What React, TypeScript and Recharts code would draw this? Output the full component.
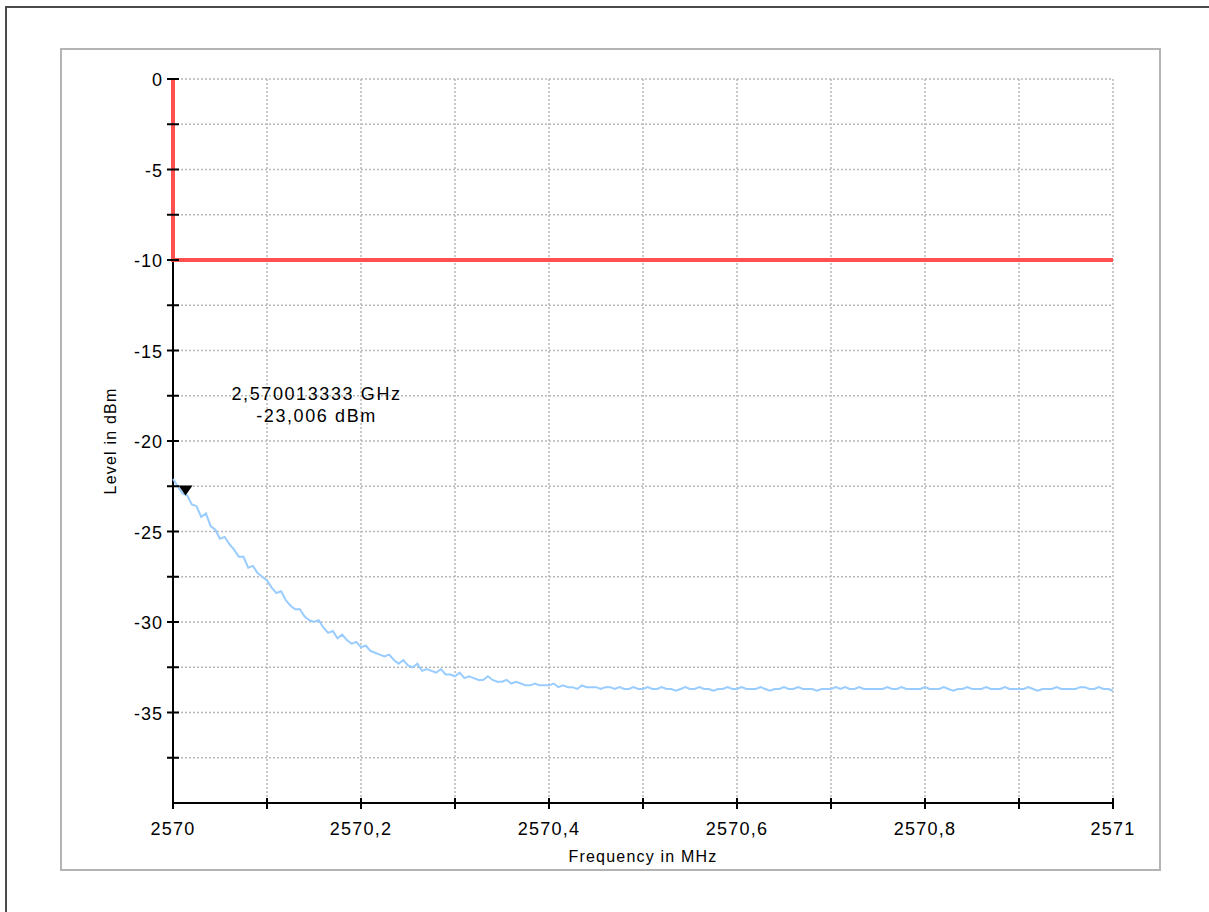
import React from 'react';
import { ComposedChart, Line, Scatter, XAxis, YAxis, CartesianGrid, Label } from 'recharts';

const FONT = '"Liberation Sans", Arial, Helvetica, sans-serif';

// sweep: 2570 .. 2571 MHz, 201 points
const sweepStart = 2570;
const sweepStep = 0.005;
const traceLevels = [
  -22.1, -22.5, -22.9, -23.0, -23.5, -23.6, -24.2, -24.0, -24.7, -24.9,
  -25.4, -25.3, -25.7, -26.0, -26.4, -26.4, -27.0, -26.9, -27.3, -27.5,
  -27.7, -28.1, -28.4, -28.3, -28.8, -29.1, -29.3, -29.3, -29.7, -29.9,
  -30.0, -29.9, -30.3, -30.6, -30.5, -30.9, -30.7, -31.0, -31.2, -31.1,
  -31.4, -31.3, -31.6, -31.7, -31.8, -31.9, -31.8, -32.1, -32.3, -32.1,
  -32.4, -32.5, -32.3, -32.7, -32.6, -32.7, -32.8, -32.6, -32.9, -32.9,
  -33.0, -32.8, -33.1, -33.0, -33.1, -33.2, -33.2, -33.0, -33.2, -33.3,
  -33.3, -33.2, -33.4, -33.3, -33.4, -33.5, -33.5, -33.4, -33.5, -33.5,
  -33.5, -33.4, -33.6, -33.5, -33.6, -33.6, -33.7, -33.5, -33.6, -33.6,
  -33.6, -33.7, -33.6, -33.6, -33.7, -33.6, -33.7, -33.7, -33.6, -33.7,
  -33.7, -33.6, -33.7, -33.7, -33.6, -33.7, -33.7, -33.8, -33.7, -33.6,
  -33.7, -33.7, -33.6, -33.7, -33.7, -33.8, -33.7, -33.7, -33.6, -33.7,
  -33.7, -33.6, -33.7, -33.7, -33.7, -33.6, -33.7, -33.8, -33.7, -33.7,
  -33.6, -33.7, -33.7, -33.6, -33.7, -33.7, -33.7, -33.8, -33.7, -33.7,
  -33.7, -33.6, -33.7, -33.6, -33.7, -33.7, -33.6, -33.7, -33.7, -33.7,
  -33.7, -33.7, -33.6, -33.7, -33.7, -33.6, -33.7, -33.7, -33.7, -33.7,
  -33.6, -33.7, -33.7, -33.7, -33.6, -33.7, -33.8, -33.7, -33.7, -33.6,
  -33.7, -33.7, -33.7, -33.6, -33.7, -33.7, -33.7, -33.6, -33.7, -33.7,
  -33.7, -33.7, -33.6, -33.7, -33.8, -33.7, -33.7, -33.7, -33.6, -33.7,
  -33.7, -33.7, -33.7, -33.6, -33.6, -33.7, -33.7, -33.6, -33.7, -33.7,
  -33.8,
];

// limit line
const limitFreqs = [2570, 2570, 2571];
const limitLevels = [0, -10, -10];

// level axis line (drawn as a series so the limit line can sit on top of it)
const axisFreqs = [2570, 2570];
const axisLevels = [-40, 0];

// marker 1
const markerFreq = 2570.013333;
const markerLevel = -23.006;
const markerText = ['2,570013333 GHz', '-23,006 dBm'];

const freqTicks = [2570, 2570.1, 2570.2, 2570.3, 2570.4, 2570.5, 2570.6, 2570.7, 2570.8, 2570.9, 2571];
const levelTicks = [-40, -37.5, -35, -32.5, -30, -27.5, -25, -22.5, -20, -17.5, -15, -12.5, -10, -7.5, -5, -2.5, 0];

const xTitle = 'Frequency in MHz';
const yTitle = 'Level in dBm';

const traceData = traceLevels.map((v, i) => ({ f: sweepStart + i * sweepStep, v }));
const limitData = limitFreqs.map((f, i) => ({ f, v: limitLevels[i] }));
const axisData = axisFreqs.map((f, i) => ({ f, v: axisLevels[i] }));
const markerData = [{ f: markerFreq, v: markerLevel }];

const PLOT_LEFT = 173;
const PLOT_BOTTOM = 803;

const fmtFreq = (v: number) => String(Number(v.toFixed(1))).replace('.', ',');

const FreqTick = (props: any) => {
  const { x, payload } = props;
  const v = payload.value as number;
  const tenths = Math.round((v - sweepStart) * 10);
  return (
    <g>
      <line x1={x} x2={x} y1={PLOT_BOTTOM - 5} y2={PLOT_BOTTOM + 6} stroke="#000" strokeWidth={2} />
      {tenths % 2 === 0 && (
        <text x={x} y={PLOT_BOTTOM + 32} textAnchor="middle" fontSize={18} letterSpacing={1.2} fill="#000" fontFamily={FONT}>
          {fmtFreq(v)}
        </text>
      )}
    </g>
  );
};

const LevelTick = (props: any) => {
  const { y, payload } = props;
  const v = payload.value as number;
  if (v <= -40) return <g />;
  return (
    <g>
      <line x1={PLOT_LEFT - 6} x2={PLOT_LEFT + 6} y1={y} y2={y} stroke="#000" strokeWidth={2} />
      {v % 5 === 0 && (
        <text x={PLOT_LEFT - 10} y={y + 7} textAnchor="end" fontSize={18} letterSpacing={1} fill="#000" fontFamily={FONT}>
          {String(v)}
        </text>
      )}
    </g>
  );
};

const MarkerShape = (props: any) => {
  const { cx, cy } = props;
  return (
    <g>
      <polygon points={`${cx - 7},${cy - 10} ${cx + 7},${cy - 10} ${cx},${cy}`} fill="#000" />
      <text x={cx + 131} y={cy - 95} textAnchor="middle" fontSize={18} letterSpacing={1.6} fill="#000" fontFamily={FONT}>
        {markerText[0]}
      </text>
      <text x={cx + 131} y={cy - 73} textAnchor="middle" fontSize={18} letterSpacing={1.6} fill="#000" fontFamily={FONT}>
        {markerText[1]}
      </text>
    </g>
  );
};

export default function App() {
  return (
    <div style={{ position: 'fixed', left: 0, top: 0, width: 1209, height: 912, overflow: 'hidden', background: '#fff', fontFamily: FONT }}>
      <div style={{ position: 'absolute', left: 5, top: 6, width: 1400, height: 1100, border: '2px solid #4b4b4b' }} />
      <div style={{ position: 'absolute', left: 60, top: 48, width: 1101, height: 823, boxSizing: 'border-box', border: '2px solid #b4b4b4' }} />
      <div style={{ position: 'absolute', left: 0, top: 0 }}>
        <ComposedChart width={1209} height={912} margin={{ top: 79, right: 96, bottom: 47, left: 110 }}>
          <CartesianGrid stroke="#b8b8b8" strokeDasharray="2 2" strokeWidth={1.5} />
          <XAxis
            dataKey="f"
            type="number"
            domain={[2570, 2571]}
            ticks={freqTicks}
            interval={0}
            height={62}
            axisLine={{ stroke: '#000', strokeWidth: 2 }}
            tickLine={false}
            tick={<FreqTick />}
          >
            <Label value={xTitle} position="insideBottom" offset={3} fontSize={16} letterSpacing={1.2} fill="#000" fontFamily={FONT} />
          </XAxis>
          <YAxis
            dataKey="v"
            type="number"
            domain={[-40, 0]}
            ticks={levelTicks}
            interval={0}
            width={63}
            axisLine={false}
            tickLine={false}
            tick={<LevelTick />}
          >
            <Label value={yTitle} angle={-90} position="insideLeft" offset={0} fontSize={16} letterSpacing={1.2} fill="#000" fontFamily={FONT} style={{ textAnchor: 'middle' }} />
          </YAxis>
          <Line data={axisData} dataKey="v" type="linear" stroke="#000" strokeWidth={2} dot={false} isAnimationActive={false} />
          <Line data={traceData} dataKey="v" type="linear" stroke="#99ccff" strokeWidth={2} dot={false} isAnimationActive={false} />
          <Line data={limitData} dataKey="v" type="linear" stroke="#ff5050" strokeWidth={4} dot={false} isAnimationActive={false} />
          <Scatter data={markerData} dataKey="v" shape={<MarkerShape />} isAnimationActive={false} />
        </ComposedChart>
      </div>
    </div>
  );
}
